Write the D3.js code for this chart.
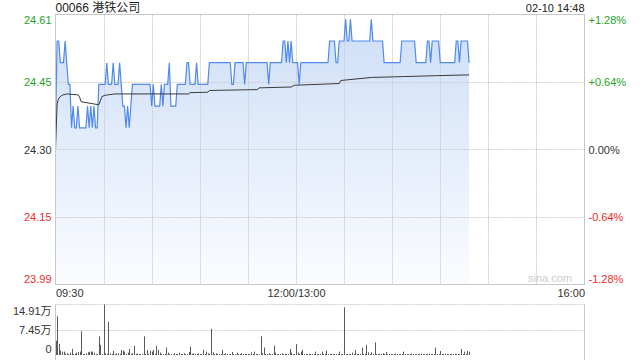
<!DOCTYPE html>
<html><head><meta charset="utf-8">
<script src="https://cdn.jsdelivr.net/npm/d3@7/dist/d3.min.js"></script>
<style>
body{margin:0;background:#fff}
svg{display:block}
text{font-family:"Liberation Sans",Arial,"Noto Sans CJK SC",sans-serif}
</style>
</head><body>
<svg id="c" width="640" height="360"></svg>
<script>
const title = "00066 港铁公司";
const stamp = "02-10 14:48";
const prevClose = 24.30;
const rangePct = 0.0128;
const totalMinutes = 330;
const priceTickLabels = ["24.61","24.45","24.30","24.15","23.99"];
const pctTickLabels = ["+1.28%","+0.64%","0.00%","-0.64%","-1.28%"];
const tickColors = ["#1ea51e","#1ea51e","#333333","#ee2b2b","#ee2b2b"];
const timeLabels = ["09:30","12:00/13:00","16:00"];
const timeTickMinutes = [0,150,330];
const volTickLabels = ["14.91万","7.45万","0"];
const volMaxK = 149.1;

// minute-by-minute last price (09:30 .. 14:48)
const price = [
24.35,24.55,24.55,24.50,24.50,24.50,24.55,24.50,24.45,24.45,
24.35,24.40,24.35,24.35,24.40,24.35,24.35,24.35,24.35,24.35,
24.40,24.35,24.40,24.35,24.40,24.35,24.35,24.45,24.45,24.45,
24.45,24.45,24.50,24.45,24.45,24.45,24.50,24.45,24.45,24.45,
24.50,24.45,24.40,24.40,24.35,24.40,24.35,24.40,24.45,24.45,
24.45,24.45,24.45,24.45,24.45,24.45,24.45,24.45,24.45,24.45,
24.40,24.45,24.40,24.40,24.40,24.40,24.45,24.40,24.45,24.45,
24.45,24.50,24.40,24.40,24.40,24.40,24.45,24.45,24.45,24.45,
24.45,24.45,24.50,24.50,24.45,24.45,24.45,24.45,24.50,24.45,
24.45,24.45,24.45,24.45,24.45,24.45,24.50,24.50,24.50,24.50,
24.50,24.50,24.50,24.50,24.50,24.50,24.50,24.50,24.50,24.50,
24.45,24.45,24.50,24.50,24.50,24.50,24.50,24.50,24.45,24.50,
24.50,24.50,24.50,24.50,24.50,24.50,24.50,24.50,24.50,24.50,
24.50,24.50,24.50,24.45,24.50,24.50,24.50,24.50,24.50,24.50,
24.50,24.50,24.55,24.55,24.50,24.55,24.50,24.55,24.50,24.50,
24.50,24.50,24.45,24.50,24.50,24.50,24.50,24.50,24.50,24.50,
24.50,24.50,24.50,24.50,24.50,24.50,24.50,24.50,24.50,24.50,
24.50,24.55,24.55,24.55,24.55,24.50,24.50,24.55,24.55,24.55,
24.55,24.60,24.55,24.55,24.60,24.55,24.55,24.55,24.55,24.55,
24.55,24.55,24.55,24.55,24.55,24.55,24.55,24.60,24.55,24.55,
24.55,24.55,24.55,24.55,24.55,24.50,24.50,24.50,24.50,24.50,
24.50,24.50,24.50,24.50,24.50,24.50,24.55,24.55,24.55,24.55,
24.55,24.55,24.55,24.55,24.55,24.50,24.50,24.50,24.50,24.50,
24.50,24.50,24.55,24.55,24.50,24.55,24.55,24.55,24.55,24.55,
24.50,24.50,24.50,24.50,24.50,24.50,24.50,24.50,24.50,24.50,
24.55,24.55,24.50,24.55,24.55,24.55,24.55,24.55,24.50
];

// average price line: [minute, value]
const avgMinutes = [0,1,2,4,7,14,15,16,27,28,29,31,37,83,84,95,96,126,127,147,149,177,178,197,217,237,258];
const avgValues  = [24.300,24.405,24.418,24.425,24.428,24.426,24.421,24.410,24.403,24.412,24.422,24.425,24.428,24.428,24.431,24.432,24.436,24.438,24.442,24.444,24.448,24.452,24.459,24.466,24.468,24.470,24.472];

// minute volume, thousands of shares
const volumeK = [
42,114,33,13,10,10,4,5,3,7,
18,3,4,7,9,10,70,3,3,5,
8,10,10,10,7,3,2,55,30,3,
149.1,5,3,98,5,3,12,3,5,5,
3,15,13,10,3,7,18,3,5,27,
3,5,3,3,2,55,3,15,3,13,
10,15,3,27,15,7,3,3,3,22,
7,3,3,2,5,3,3,7,3,3,
5,3,3,9,25,3,5,3,3,5,
3,3,15,3,10,5,3,77,8,3,
5,3,3,3,15,3,5,3,2,3,
9,3,3,7,3,3,5,3,3,3,
3,3,8,3,10,3,3,2,55,5,
22,3,3,5,3,3,28,7,3,3,
3,5,3,3,4,3,18,7,3,3,
32,7,3,10,15,3,3,3,4,3,
3,3,10,3,3,3,10,3,3,13,
3,3,4,3,3,3,3,10,3,3,
141,3,3,3,3,7,3,15,3,3,
3,22,3,3,30,8,3,8,3,37,
3,3,3,3,5,3,9,3,3,3,
3,3,4,3,3,3,3,10,3,3,
3,3,4,3,3,3,3,3,4,3,
3,3,3,4,3,3,3,22,3,3,
12,3,3,4,3,3,3,3,3,4,
3,3,3,18,3,10,3,12,10
];

const svg = d3.select("#c");
svg.append("rect").attr("width",640).attr("height",360).attr("fill","#fff");

const L = 55.5, R = 584.5, T = 14.5, B = 284.5;
const VT = 304.5, VB = 355;
const lo = prevClose*(1-rangePct), hi = prevClose*(1+rangePct);
const x = d3.scaleLinear().domain([0,totalMinutes]).range([L,R]);
const y = d3.scaleLinear().domain([lo,hi]).range([B,T]);
const yv = d3.scaleLinear().domain([0,volMaxK]).range([VB,VT]);
const priceTicks = [hi,(hi+prevClose)/2,prevClose,(lo+prevClose)/2,lo];

// gradient
const defs = svg.append("defs");
const g = defs.append("linearGradient").attr("id","fillg").attr("gradientUnits","userSpaceOnUse")
  .attr("x1",0).attr("y1",T).attr("x2",0).attr("y2",B);
g.append("stop").attr("offset","0").attr("stop-color","#cddef7");
g.append("stop").attr("offset","1").attr("stop-color","#fbfcff");

// area + lines
svg.append("path").datum(price)
  .attr("d", d3.area().x((d,i)=>x(i)).y0(B).y1(d=>y(d)))
  .attr("fill","url(#fillg)");

// grid
const grid = svg.append("g").attr("stroke","#cfcfcf").attr("stroke-dasharray","2,1").attr("fill","none");
d3.range(30,totalMinutes,30).forEach(m=>{
  grid.append("line").attr("x1",Math.round(x(m))+0.5).attr("x2",Math.round(x(m))+0.5).attr("y1",T).attr("y2",B);
});
priceTicks.slice(1,4).forEach(v=>{
  grid.append("line").attr("x1",L).attr("x2",R).attr("y1",Math.round(y(v))+0.5).attr("y2",Math.round(y(v))+0.5);
});

svg.append("path").datum(price)
  .attr("d", d3.line().x((d,i)=>x(i)).y(d=>y(d)))
  .attr("fill","none").attr("stroke","#4f8aec").attr("stroke-width",1.2);

svg.append("path").datum(avgMinutes.map((m,i)=>[m,avgValues[i]]))
  .attr("d", d3.line().x(d=>x(d[0])).y(d=>y(d[1])))
  .attr("fill","none").attr("stroke","#3a3a3a").attr("stroke-width",1);

svg.append("rect").attr("x",L).attr("y",T).attr("width",R-L).attr("height",B-T)
  .attr("fill","none").attr("stroke","#c8c8c8");

// watermark
svg.append("text").attr("x",572).attr("y",282).attr("text-anchor","end")
  .attr("font-size",11).attr("fill","#cccccc").text("sina.com");

// axes
const axL = svg.append("g").attr("transform",`translate(${L},0)`)
  .call(d3.axisLeft(y).tickValues(priceTicks).tickFormat((d,i)=>priceTickLabels[i]).tickSize(0).tickPadding(4));
const axR = svg.append("g").attr("transform",`translate(${R},0)`)
  .call(d3.axisRight(y).tickValues(priceTicks).tickFormat((d,i)=>pctTickLabels[i]).tickSize(0).tickPadding(4));
[axL,axR].forEach(a=>{
  a.select(".domain").remove();
  a.selectAll("text").attr("font-size",11).attr("font-family",null)
    .attr("fill",(d,i)=>tickColors[i])
    .attr("dy",(d,i)=> i===0 ? "0.86em" : (i===4 ? "-0.22em" : "0.32em"));
});

const axB = svg.append("g").attr("transform",`translate(0,${B})`)
  .call(d3.axisBottom(x).tickValues(timeTickMinutes).tickFormat((d,i)=>timeLabels[i]).tickSize(0).tickPadding(5));
axB.select(".domain").remove();
axB.selectAll("text").attr("font-size",11).attr("font-family",null).attr("fill","#333")
  .attr("text-anchor",(d,i)=> i===0 ? "start" : (i===2 ? "end" : "middle"));

// header
svg.append("text").attr("x",L).attr("y",12).attr("font-size",12).attr("fill","#222").text(title);
svg.append("text").attr("x",R).attr("y",12).attr("text-anchor","end").attr("font-size",11).attr("fill","#222").text(stamp);

// volume panel
const vg = svg.append("g");
vg.append("line").attr("x1",L).attr("x2",R).attr("y1",VT).attr("y2",VT).attr("stroke","#cfcfcf").attr("stroke-dasharray","2,1").attr("stroke-width",1);
vg.append("line").attr("x1",L).attr("x2",R).attr("y1",Math.round(yv(volMaxK/2))+0.5).attr("y2",Math.round(yv(volMaxK/2))+0.5).attr("stroke","#cfcfcf").attr("stroke-dasharray","2,1");
vg.append("line").attr("x1",L).attr("x2",L).attr("y1",VT).attr("y2",360).attr("stroke","#c8c8c8");
vg.append("line").attr("x1",R).attr("x2",R).attr("y1",VT).attr("y2",360).attr("stroke","#c8c8c8");
vg.selectAll("rect.v").data(volumeK).join("rect").attr("class","v")
  .attr("x",(d,i)=>Math.round(x(i)))
  .attr("width",1)
  .attr("y",d=>yv(d)).attr("height",d=>VB-yv(d))
  .attr("fill","#5a5a5a");

const axV = svg.append("g").attr("transform",`translate(${L},0)`)
  .call(d3.axisLeft(yv).tickValues([volMaxK,volMaxK/2,0]).tickFormat((d,i)=>volTickLabels[i]).tickSize(0).tickPadding(4));
axV.select(".domain").remove();
axV.selectAll("text").attr("font-size",11).attr("font-family",null).attr("fill","#333")
  .attr("dy",(d,i)=> i===0 ? "0.9em" : (i===2 ? "-0.25em" : "0.32em"));
</script>
</body></html>
